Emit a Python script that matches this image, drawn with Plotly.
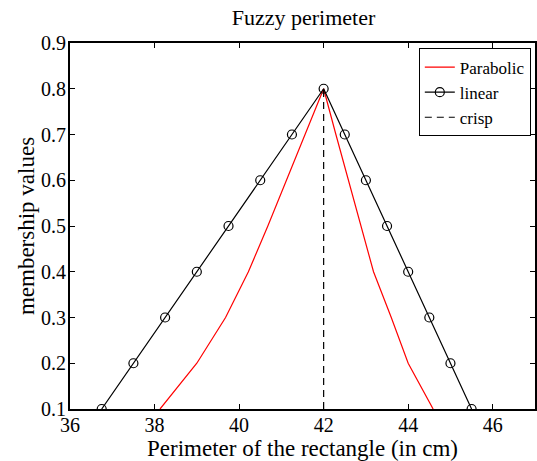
import plotly.graph_objects as go

# Data
membership = [0.1, 0.2, 0.3, 0.4, 0.5, 0.6, 0.7, 0.8, 0.7, 0.6, 0.5, 0.4, 0.3, 0.2, 0.1]
linear_x = [36.75, 37.5, 38.25, 39.0, 39.75, 40.5, 41.25, 42.0, 42.5, 43.0, 43.5, 44.0, 44.5, 45.0, 45.5]
parabolic_x = [38.13, 39.0, 39.68, 40.22, 40.68, 41.12, 41.57, 42.0, 42.29, 42.59, 42.88, 43.18, 43.6, 44.0, 44.59]
crisp_x = [42.0, 42.0]
crisp_y = [0.1, 0.8]

x_ticks = [36, 38, 40, 42, 44, 46]
y_ticks = [0.1, 0.2, 0.3, 0.4, 0.5, 0.6, 0.7, 0.8, 0.9]

FONT = "Liberation Serif, Times New Roman, serif"

fig = go.Figure()
fig.add_trace(go.Scatter(x=parabolic_x, y=membership, mode="lines", name="Parabolic",
                         line=dict(color="#ff0000", width=1.2)))
fig.add_trace(go.Scatter(x=linear_x, y=membership, mode="lines+markers", name="linear",
                         line=dict(color="black", width=1.2),
                         marker=dict(symbol="circle-open", size=9, color="black",
                                     line=dict(width=1.2, color="black"))))
fig.add_trace(go.Scatter(x=crisp_x, y=crisp_y, mode="lines", name="crisp",
                         line=dict(color="black", width=1.2, dash="7px,5px")))

axis_common = dict(showline=True, linecolor="black", linewidth=2, mirror="ticks",
                   ticks="inside", ticklen=5, tickwidth=1, tickcolor="black",
                   showgrid=False, zeroline=False,
                   tickfont=dict(family=FONT, size=20, color="black"))

fig.update_xaxes(range=[36, 47], tickvals=x_ticks, ticktext=[str(v) for v in x_ticks],
                 ticklabelstandoff=-3,
                 title=dict(text="Perimeter of the rectangle (in cm)",
                            font=dict(family=FONT, size=23, color="black"), standoff=0),
                 **axis_common)
fig.update_yaxes(range=[0.1, 0.9], tickvals=y_ticks, ticktext=[f"{v:.1f}" for v in y_ticks],
                 ticklabelstandoff=-2,
                 title=dict(text="membership values",
                            font=dict(family=FONT, size=23, color="black"), standoff=0),
                 **axis_common)

fig.update_layout(
    width=537, height=461,
    margin=dict(l=70, r=0, t=43, b=52, pad=0),
    paper_bgcolor="white", plot_bgcolor="white",
    font=dict(family=FONT, color="black"),
    title=dict(text="Fuzzy perimeter", x=(70 + 537) / 2 / 537, xanchor="center",
               y=1 - 17 / 461, yanchor="middle",
               font=dict(family=FONT, size=22, color="black")),
    legend=dict(x=0.991, y=0.985, xanchor="right", yanchor="top",
                bgcolor="white", bordercolor="black", borderwidth=1,
                font=dict(family=FONT, size=17, color="black"),
                tracegroupgap=0, itemwidth=30),
    showlegend=True,
)

fig.write_html("out.html")
